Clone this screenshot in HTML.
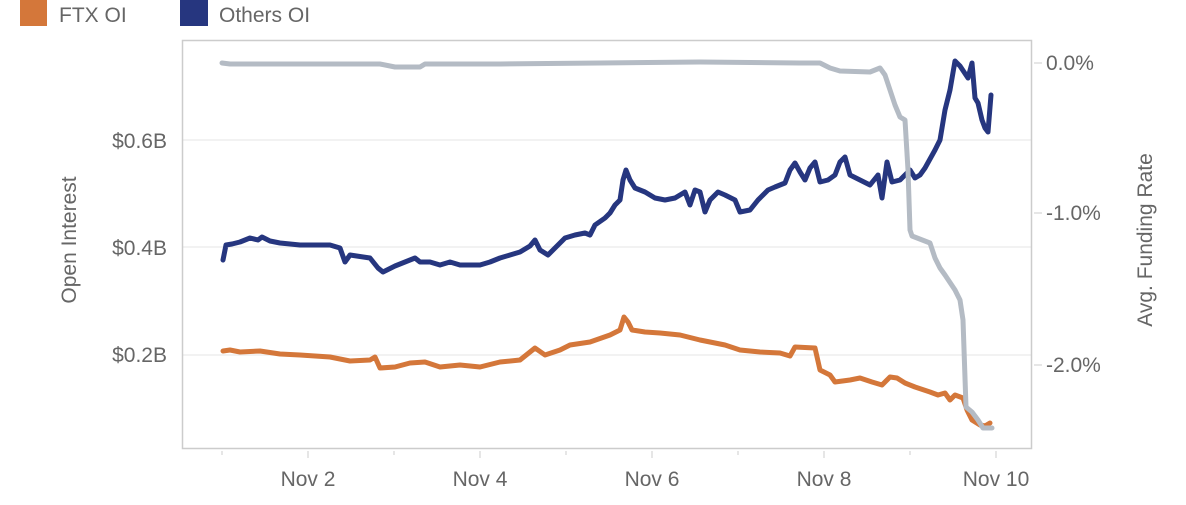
<!DOCTYPE html>
<html><head><meta charset="utf-8"><style>
html,body{margin:0;padding:0;background:#fff;}
svg text{font-family:"Liberation Sans",Arial,sans-serif;fill:#666;}
</style></head><body>
<svg width="1186" height="500" viewBox="0 0 1186 500" xmlns="http://www.w3.org/2000/svg">
<rect x="20" y="0" width="27" height="26" fill="#d4773a"/>
<text x="59" y="22" font-size="21">FTX OI</text>
<rect x="180" y="0" width="28" height="26" fill="#26367f"/>
<text x="219" y="22" font-size="21">Others OI</text>
<line x1="183" y1="140" x2="1031" y2="140" stroke="#eee" stroke-width="1.5"/>
<line x1="183" y1="247" x2="1031" y2="247" stroke="#eee" stroke-width="1.5"/>
<line x1="183" y1="355" x2="1031" y2="355" stroke="#eee" stroke-width="1.5"/>
<rect x="182.5" y="40.5" width="849" height="408" fill="none" stroke="#ccc" stroke-width="1.5"/>
<line x1="1034" y1="63" x2="1042" y2="63" stroke="#ddd" stroke-width="1.5"/>
<line x1="1034" y1="213" x2="1042" y2="213" stroke="#ddd" stroke-width="1.5"/>
<line x1="1034" y1="365" x2="1042" y2="365" stroke="#ddd" stroke-width="1.5"/>
<g stroke="#ddd" stroke-width="1.5">
<line x1="222" y1="451" x2="222" y2="455"/><line x1="308" y1="451" x2="308" y2="458"/><line x1="394" y1="451" x2="394" y2="455"/>
<line x1="480" y1="451" x2="480" y2="458"/><line x1="566" y1="451" x2="566" y2="455"/><line x1="652" y1="451" x2="652" y2="458"/>
<line x1="738" y1="451" x2="738" y2="455"/><line x1="824" y1="451" x2="824" y2="458"/><line x1="910" y1="451" x2="910" y2="455"/>
<line x1="996" y1="451" x2="996" y2="458"/>
</g>
<g font-size="21" text-anchor="middle">
<text x="308" y="486">Nov 2</text><text x="480" y="486">Nov 4</text><text x="652" y="486">Nov 6</text><text x="824" y="486">Nov 8</text><text x="996" y="486">Nov 10</text>
</g>
<g font-size="21" text-anchor="end">
<text x="167" y="148">$0.6B</text><text x="167" y="255">$0.4B</text><text x="167" y="362">$0.2B</text>
</g>
<g font-size="21">
<text x="1046" y="70">0.0%</text><text x="1046" y="220">-1.0%</text><text x="1046" y="372">-2.0%</text>
</g>
<text font-size="21" text-anchor="middle" transform="translate(76,240) rotate(-90)">Open Interest</text>
<text font-size="21" text-anchor="middle" transform="translate(1152,240) rotate(-90)">Avg. Funding Rate</text>
<g fill="none" stroke-width="5" stroke-linejoin="round" stroke-linecap="round">
<polyline stroke="#d4773a" points="223,351 230,350 240,352 260,351 280,354 300,355 330,357 350,361 370,360 375,357 380,368 395,367 410,363 425,362 440,367 460,365 480,367 500,362 520,360 530,352 535,348 545,355 560,350 570,345 590,342 610,335 620,330 624,317 628,322 632,330 645,332 660,333 680,335 700,340 715,343 725,345 740,350 760,352 780,353 790,356 795,347 815,348 820,370 830,375 835,382 850,380 860,378 872,382 882,385 890,377 897,378 905,383 915,387 930,392 938,395 945,393 950,400 955,395 963,398 967,410 972,420 980,425 985,426 990,423"/>
<polyline stroke="#26367f" points="223,260 226,245 232,244 240,242 250,238 258,240 262,237 270,241 280,243 300,245 330,245 340,248 345,262 350,255 370,258 378,268 383,272 395,266 405,262 415,258 420,262 430,262 440,265 450,262 460,265 480,265 490,262 500,258 510,255 520,252 530,246 535,240 540,250 548,255 555,248 565,238 575,235 585,233 590,235 595,225 605,218 610,213 615,205 620,200 623,180 626,170 630,180 635,188 645,192 655,198 665,200 675,198 685,192 690,205 695,190 700,192 705,212 710,200 718,192 725,195 735,200 740,212 750,210 758,200 768,190 775,187 785,183 790,170 795,163 800,172 805,180 810,168 815,162 820,182 828,180 835,175 840,162 845,157 850,175 860,180 870,185 878,175 882,198 887,162 892,182 900,180 905,175 910,170 915,178 920,175 925,168 935,150 940,140 945,110 950,90 955,61 960,66 968,78 972,63 975,98 978,103 982,120 985,128 988,132 991,95"/>
<polyline stroke="#b4bbc4" points="222,63 230,64 300,64 380,64 395,67 420,67 425,64 500,64 600,63 700,62 800,63 820,63 830,68 840,71 870,72 880,68 885,75 890,90 895,105 900,117 905,120 908,170 910,230 912,236 930,243 935,258 940,268 945,275 955,290 960,300 963,320 966,407 972,412 978,420 983,428 992,428"/>
</g>
</svg>
</body></html>
